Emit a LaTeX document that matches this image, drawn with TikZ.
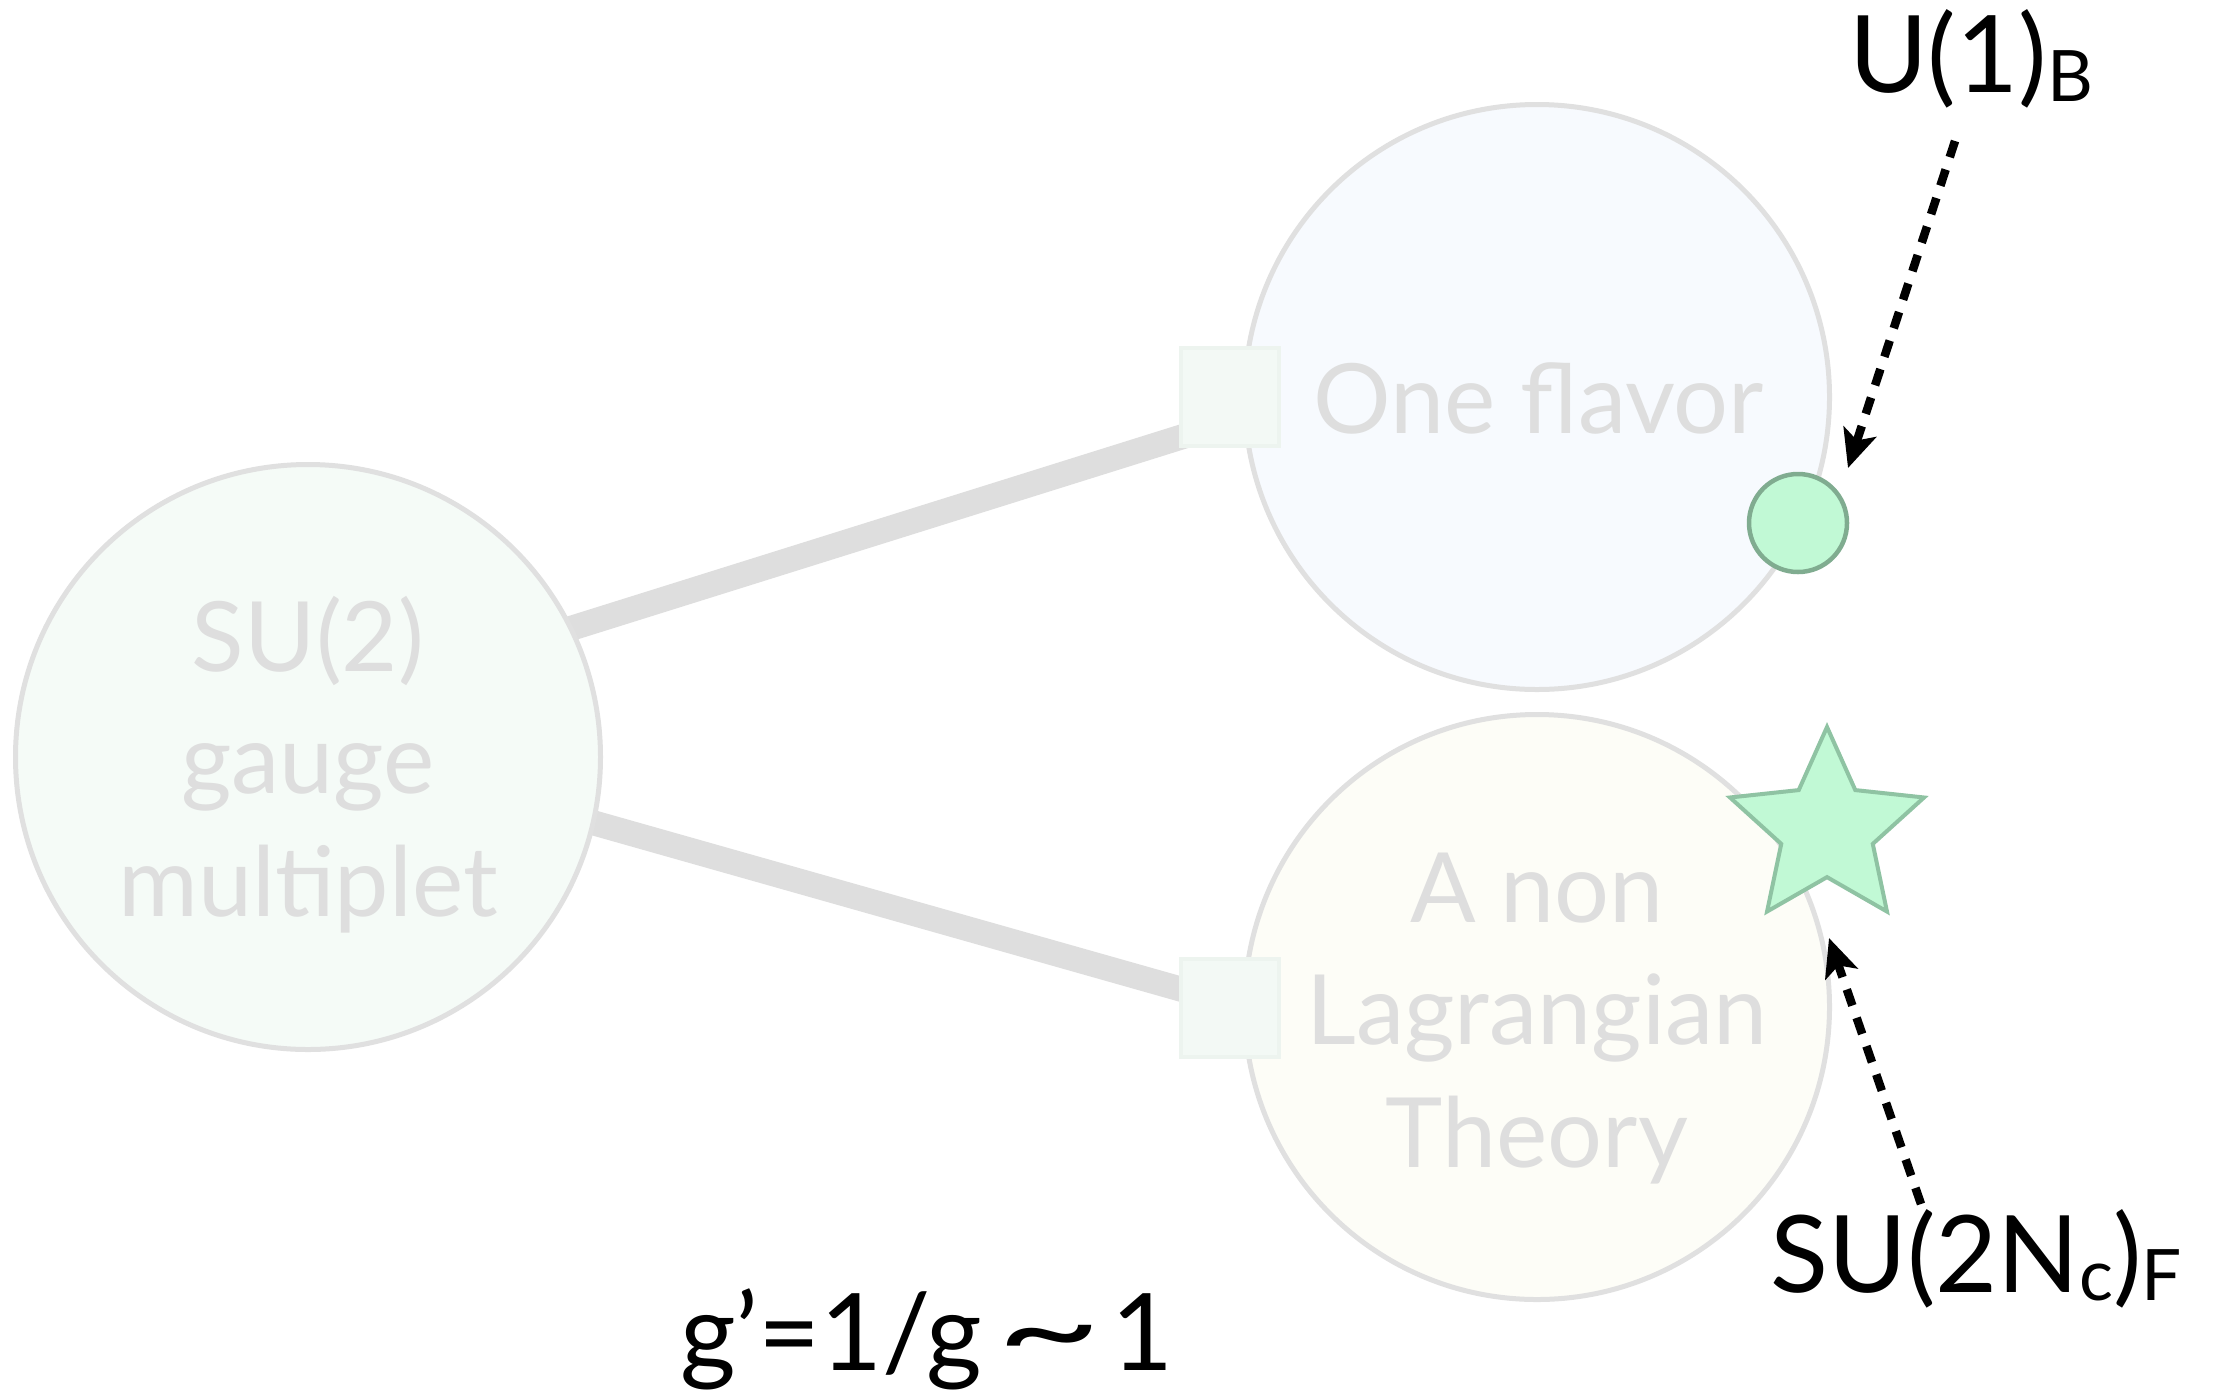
\documentclass[tikz,border=0pt]{standalone}
\usepackage{graphicx}
\usepackage{fontspec}
\setmainfont{Lato}
\usetikzlibrary{shapes.geometric,arrows.meta,calc}
\definecolor{txtgray}{HTML}{DEDEDE}
\definecolor{ringgray}{HTML}{E0E0E0}
\definecolor{conngray}{HTML}{DEDEDE}
\definecolor{fillA}{HTML}{F5FBF7}
\definecolor{fillB}{HTML}{F7FAFE}
\definecolor{fillC}{HTML}{FDFDF7}
\definecolor{sqfill}{HTML}{F3F9F5}
\definecolor{sqline}{HTML}{EDF4EF}
\definecolor{mint}{HTML}{C1F9D5}
\definecolor{dotline}{HTML}{80AC90}
\definecolor{starline}{HTML}{8FC3A3}
\newcommand\mysubfont{\fontsize{71}{80}\selectfont}
\begin{document}
\begin{tikzpicture}[x=1pt,y=-1pt,
  bigc/.style={circle, draw=ringgray, line width=5pt, minimum size=585pt, inner sep=0pt},
  gtext/.style={text=txtgray, font=\fontsize{97}{122}\selectfont, inner sep=0pt},
  btext/.style={text=black, font=\fontsize{107}{120}\selectfont, inner sep=0pt},
  conn/.style={draw=conngray, line width=25pt, shorten <=-25pt},
  sqr/.style={rectangle, draw=sqline, fill=sqfill, line width=4pt, minimum size=98pt, inner sep=0pt},
  darrow/.style={draw=black, line width=8.5pt, dash pattern=on 17pt off 13pt, -{Stealth[length=38pt,width=34pt,inset=9pt]}}
]
\fill[white] (0,0) rectangle (2215,1398);
\useasboundingbox (0,0) rectangle (2215,1398);

\path (308,757) coordinate (su2c);
\path (1537,397) coordinate (onec);
\path (1537,1007) coordinate (nonc);

% connectors (under the circles and squares)
\node[bigc, draw=none] (su2) at (su2c) {};
\node[sqr, draw=none, fill=none] (sq1) at (1230,397) {};
\node[sqr, draw=none, fill=none] (sq2) at (1230,1008) {};
\draw[conn] (su2.26.7) -- ($(sq1.west)+(12,37)$);
\draw[conn] (su2.-13.6) -- ($(sq2.west)+(12,-16)$);

% circles
\node[bigc, fill=fillA] (su2) at (su2c) {};
\node[bigc, fill=fillB] (one) at (onec) {};
\node[bigc, fill=fillC] (non) at (nonc) {};

% squares
\node[sqr] (sq1) at (1230,397) {};
\node[sqr] (sq2) at (1230,1008) {};

% gray texts
\node[gtext, anchor=base] (t1) at (308,671) {SU(2)};
\node[gtext, anchor=base] (t2) at (308,793) {gauge};
\node[gtext, anchor=base] (t3) at (308,916) {multiplet};
\node[gtext, anchor=base] (t4) at (1539,433) {One flavor};
\node[gtext, anchor=base] (t5) at (1537,922) {A non};
\node[gtext, anchor=base] (t6) at (1537,1044) {Lagrangian};
\node[gtext, anchor=base] (t7) at (1537,1167) {Theory};

% symmetry markers
\node[circle, draw=dotline, fill=mint, line width=4.5pt, minimum size=98pt, inner sep=0pt] (dot) at (1798,523) {};
\node[star, star points=5, star point ratio=2.12, draw=starline, fill=mint, line width=4pt, minimum size=204pt, inner sep=0pt] (star) at (1827,829) {};

% labels
\node[btext, anchor=base west] (lblB) at (1849,92) {U(1)\raisebox{-9pt}{\mysubfont B}};
\node[btext, anchor=base west] (lblF) at (1770,1292) {SU(2N\raisebox{-8pt}{\mysubfont c})\raisebox{-8pt}{\mysubfont F}};
\node[btext, anchor=base west] (coup) at (680,1370) {g’=1/g\hspace{14pt}\scalebox{1.7}[1.1]{\char"7E}\hspace{10pt}1};

% arrows
\coordinate (bstart) at (1955,141);
\coordinate (fstart) at (1921,1204);
\draw[darrow] (bstart) -- ($(dot)+(50,-55)$);
\draw[darrow] (fstart) -- ($(star)+(2,109)$);
\end{tikzpicture}
\end{document}
